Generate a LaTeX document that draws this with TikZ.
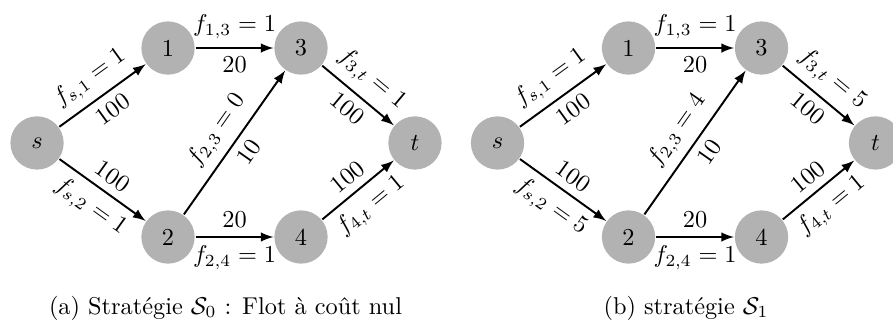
\documentclass[tikz,border=0pt]{standalone}
\usepackage{fontspec}
\usepackage{tikz}
\usetikzlibrary{arrows,positioning}

\begin{document}
\begin{tikzpicture}[thick]
	% Styles des sommets et des arcs
	\tikzset{vertex/.style={circle, fill=black!30, minimum size=0.77cm, inner sep=0pt},
		arc/.style={-latex}}
	
	% Cadre de l'image
	\useasboundingbox (0,0) rectangle (12.905,-4.668);
	
	% --- Réseau (a) : Flot à coût nul ---
	\node[vertex] (as) at (0.535,-2.066) {$s$};
	\node[vertex] (a1) at (2.428,-0.694) {1};
	\node[vertex] (a3) at (4.350,-0.694) {3};
	\node[vertex] (at) at (5.997,-2.066) {$t$};
	\node[vertex] (a2) at (2.428,-3.425) {2};
	\node[vertex] (a4) at (4.350,-3.425) {4};
	
	\draw[arc] (as) -- (a1) node[midway, above, sloped] {$f_{s,1}=1$} node[midway, below, sloped] {$100$};
	\draw[arc] (as) -- (a2) node[midway, above, sloped] {$100$} node[midway, below, sloped] {$f_{s,2}=1$};
	\draw[arc] (a1) -- (a3) node[midway, above] {$f_{1,3}=1$} node[midway, below] {$20$};
	\draw[arc] (a2) -- (a3) node[midway, above, sloped] {$f_{2,3}=0$} node[midway, below, sloped] {$10$};
	\draw[arc] (a2) -- (a4) node[midway, above] {$20$} node[midway, below] {$f_{2,4}=1$};
	\draw[arc] (a3) -- (at) node[midway, above, sloped] {$f_{3,t}=1$} node[midway, below, sloped] {$100$};
	\draw[arc] (a4) -- (at) node[midway, above, sloped] {$100$} node[midway, below, sloped] {$f_{4,t}=1$};
	
	\node (capa) at (3.259,-4.451) {(a) Stratégie $\mathcal{S}_0$ : Flot à coût nul};
	
	% --- Réseau (b) : même graphe, décalé à droite ---
	\begin{scope}[xshift=6.655cm]
		\node[vertex] (bs) at (0.535,-2.066) {$s$};
		\node[vertex] (b1) at (2.428,-0.694) {1};
		\node[vertex] (b3) at (4.350,-0.694) {3};
		\node[vertex] (bt) at (5.997,-2.066) {$t$};
		\node[vertex] (b2) at (2.428,-3.425) {2};
		\node[vertex] (b4) at (4.350,-3.425) {4};
		
		\draw[arc] (bs) -- (b1) node[midway, above, sloped] {$f_{s,1}=1$} node[midway, below, sloped] {$100$};
		\draw[arc] (bs) -- (b2) node[midway, above, sloped] {$100$} node[midway, below, sloped] {$f_{s,2}=5$};
		\draw[arc] (b1) -- (b3) node[midway, above] {$f_{1,3}=1$} node[midway, below] {$20$};
		\draw[arc] (b2) -- (b3) node[midway, above, sloped] {$f_{2,3}=4$} node[midway, below, sloped] {$10$};
		\draw[arc] (b2) -- (b4) node[midway, above] {$20$} node[midway, below] {$f_{2,4}=1$};
		\draw[arc] (b3) -- (bt) node[midway, above, sloped] {$f_{3,t}=5$} node[midway, below, sloped] {$100$};
		\draw[arc] (b4) -- (bt) node[midway, above, sloped] {$100$} node[midway, below, sloped] {$f_{4,t}=1$};
		
		\node (capb) at (3.259,-4.451) {(b) stratégie $\mathcal{S}_1$};
	\end{scope}
	
\end{tikzpicture}
\end{document}
